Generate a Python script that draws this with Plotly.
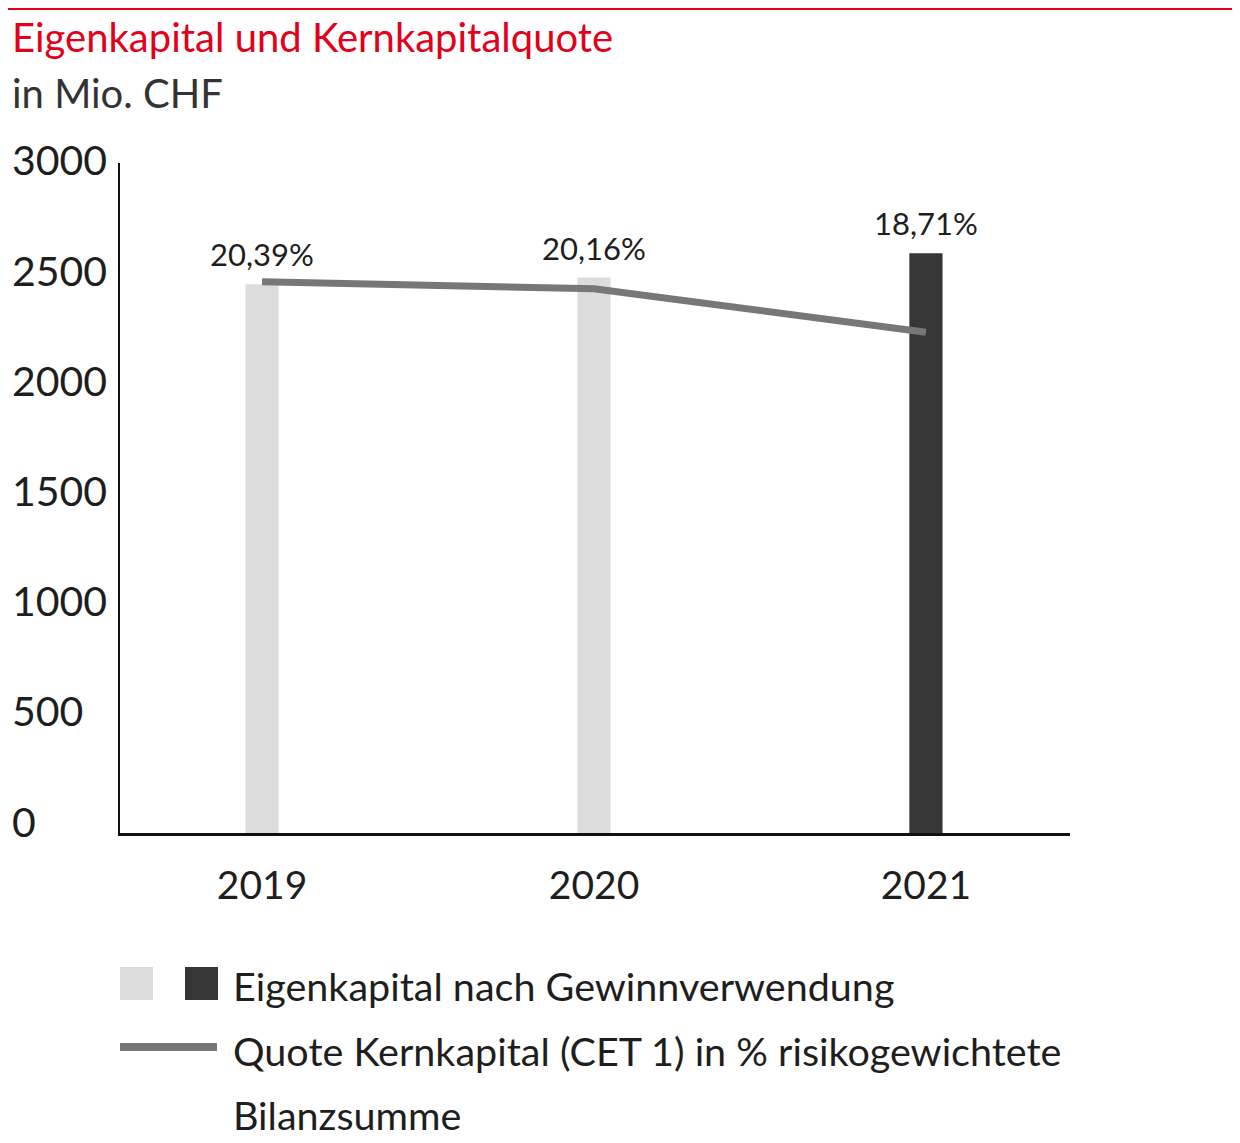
import plotly.graph_objects as go

# Daten
years = ["2019", "2020", "2021"]
eigenkapital = [2490, 2520, 2630]          # in Mio. CHF
cet1_quote = [20.39, 20.16, 18.71]          # in %
cet1_labels = ["20,39%", "20,16%", "18,71%"]
bar_colors = ["#dcdcdc", "#dcdcdc", "#363636"]
y_ticks = [0, 500, 1000, 1500, 2000, 2500, 3000]

FONT = "Lato"
RED = "#e2001a"
TXT = "#1e1e1e"

# die Seite setzt die Grafik 8 px nach rechts/unten
OFF = 8
W, H = 1240 - OFF, 1143 - OFF
L, T = 120 - OFF, 163 - OFF
PW, PH = 950, 670
R, B = W - L - PW, H - T - PH


def px_x(px):
    # Bildschirm-Pixel -> paper-Koordinate
    return (px - OFF - L) / PW


def px_y(py):
    return (T + PH - (py - OFF)) / PH


fig = go.Figure()

fig.add_trace(go.Bar(
    x=years, y=eigenkapital, marker=dict(color=bar_colors, line=dict(width=0)),
    width=0.1, showlegend=False, hoverinfo="skip",
))

fig.add_trace(go.Scatter(
    x=years, y=cet1_quote, yaxis="y2", mode="lines",
    line=dict(color="#777777", width=7), showlegend=False, hoverinfo="skip",
))

annotations = []
# Prozentwerte über den Balken
for i, (val, lab) in enumerate(zip(eigenkapital, cet1_labels)):
    annotations.append(dict(x=i, y=val, text=lab, showarrow=False, yshift=30,
                            font=dict(family=FONT, size=31, color=TXT)))

# y-Achsenbeschriftung linksbündig
for t in y_ticks:
    annotations.append(dict(xref="paper", x=px_x(10), y=t, text=str(t), showarrow=False,
                            xanchor="left", yshift=12,
                            font=dict(family=FONT, size=41, color=TXT)))

# Titel
annotations.append(dict(xref="paper", yref="paper", x=px_x(10), y=px_y(37),
                        text="Eigenkapital und Kernkapitalquote", showarrow=False,
                        xanchor="left", yanchor="middle",
                        font=dict(family=FONT, size=40, color=RED)))
annotations.append(dict(xref="paper", yref="paper", x=px_x(10), y=px_y(93),
                        text="in Mio. CHF", showarrow=False,
                        xanchor="left", yanchor="middle",
                        font=dict(family=FONT, size=40, color="#333333")))

# Legende
legend_rows = [
    ("Eigenkapital nach Gewinnverwendung", 985),
    ("Quote Kernkapital (CET 1) in % risikogewichtete", 1050),
    ("Bilanzsumme", 1114),
]
for text, py in legend_rows:
    annotations.append(dict(xref="paper", yref="paper", x=px_x(231), y=px_y(py),
                            text=text, showarrow=False, xanchor="left", yanchor="middle",
                            font=dict(family=FONT, size=39.5, color=TXT)))

shapes = [
    dict(type="line", xref="paper", yref="paper", x0=px_x(0), x1=px_x(1240), y0=px_y(9), y1=px_y(9),
         line=dict(color=RED, width=2)),
    dict(type="rect", xref="paper", yref="paper", x0=px_x(120), x1=px_x(153), y0=px_y(1000), y1=px_y(967),
         fillcolor="#dcdcdc", line=dict(width=0)),
    dict(type="rect", xref="paper", yref="paper", x0=px_x(185), x1=px_x(218), y0=px_y(1000), y1=px_y(967),
         fillcolor="#363636", line=dict(width=0)),
    dict(type="line", xref="paper", yref="paper", x0=px_x(120), x1=px_x(217), y0=px_y(1047), y1=px_y(1047),
         line=dict(color="#777777", width=8)),
]

fig.update_layout(
    width=W, height=H,
    margin=dict(l=L, r=R, t=T, b=B),
    plot_bgcolor="white", paper_bgcolor="white",
    font=dict(family=FONT, color=TXT),
    xaxis=dict(type="category", range=[-0.428, 2.434], showline=True, linecolor="#111111",
               linewidth=2.5, showgrid=False, zeroline=False, ticks="", ticklabelstandoff=16,
               tickfont=dict(family=FONT, size=39, color=TXT)),
    yaxis=dict(range=[0, 3040], showline=True, linecolor="#111111", linewidth=2,
               showgrid=False, zeroline=False, showticklabels=False, ticks=""),
    yaxis2=dict(range=[2.02, 24.35], overlaying="y", visible=False),
    annotations=annotations,
    shapes=shapes,
    showlegend=False,
)

fig.write_html("out.html")
